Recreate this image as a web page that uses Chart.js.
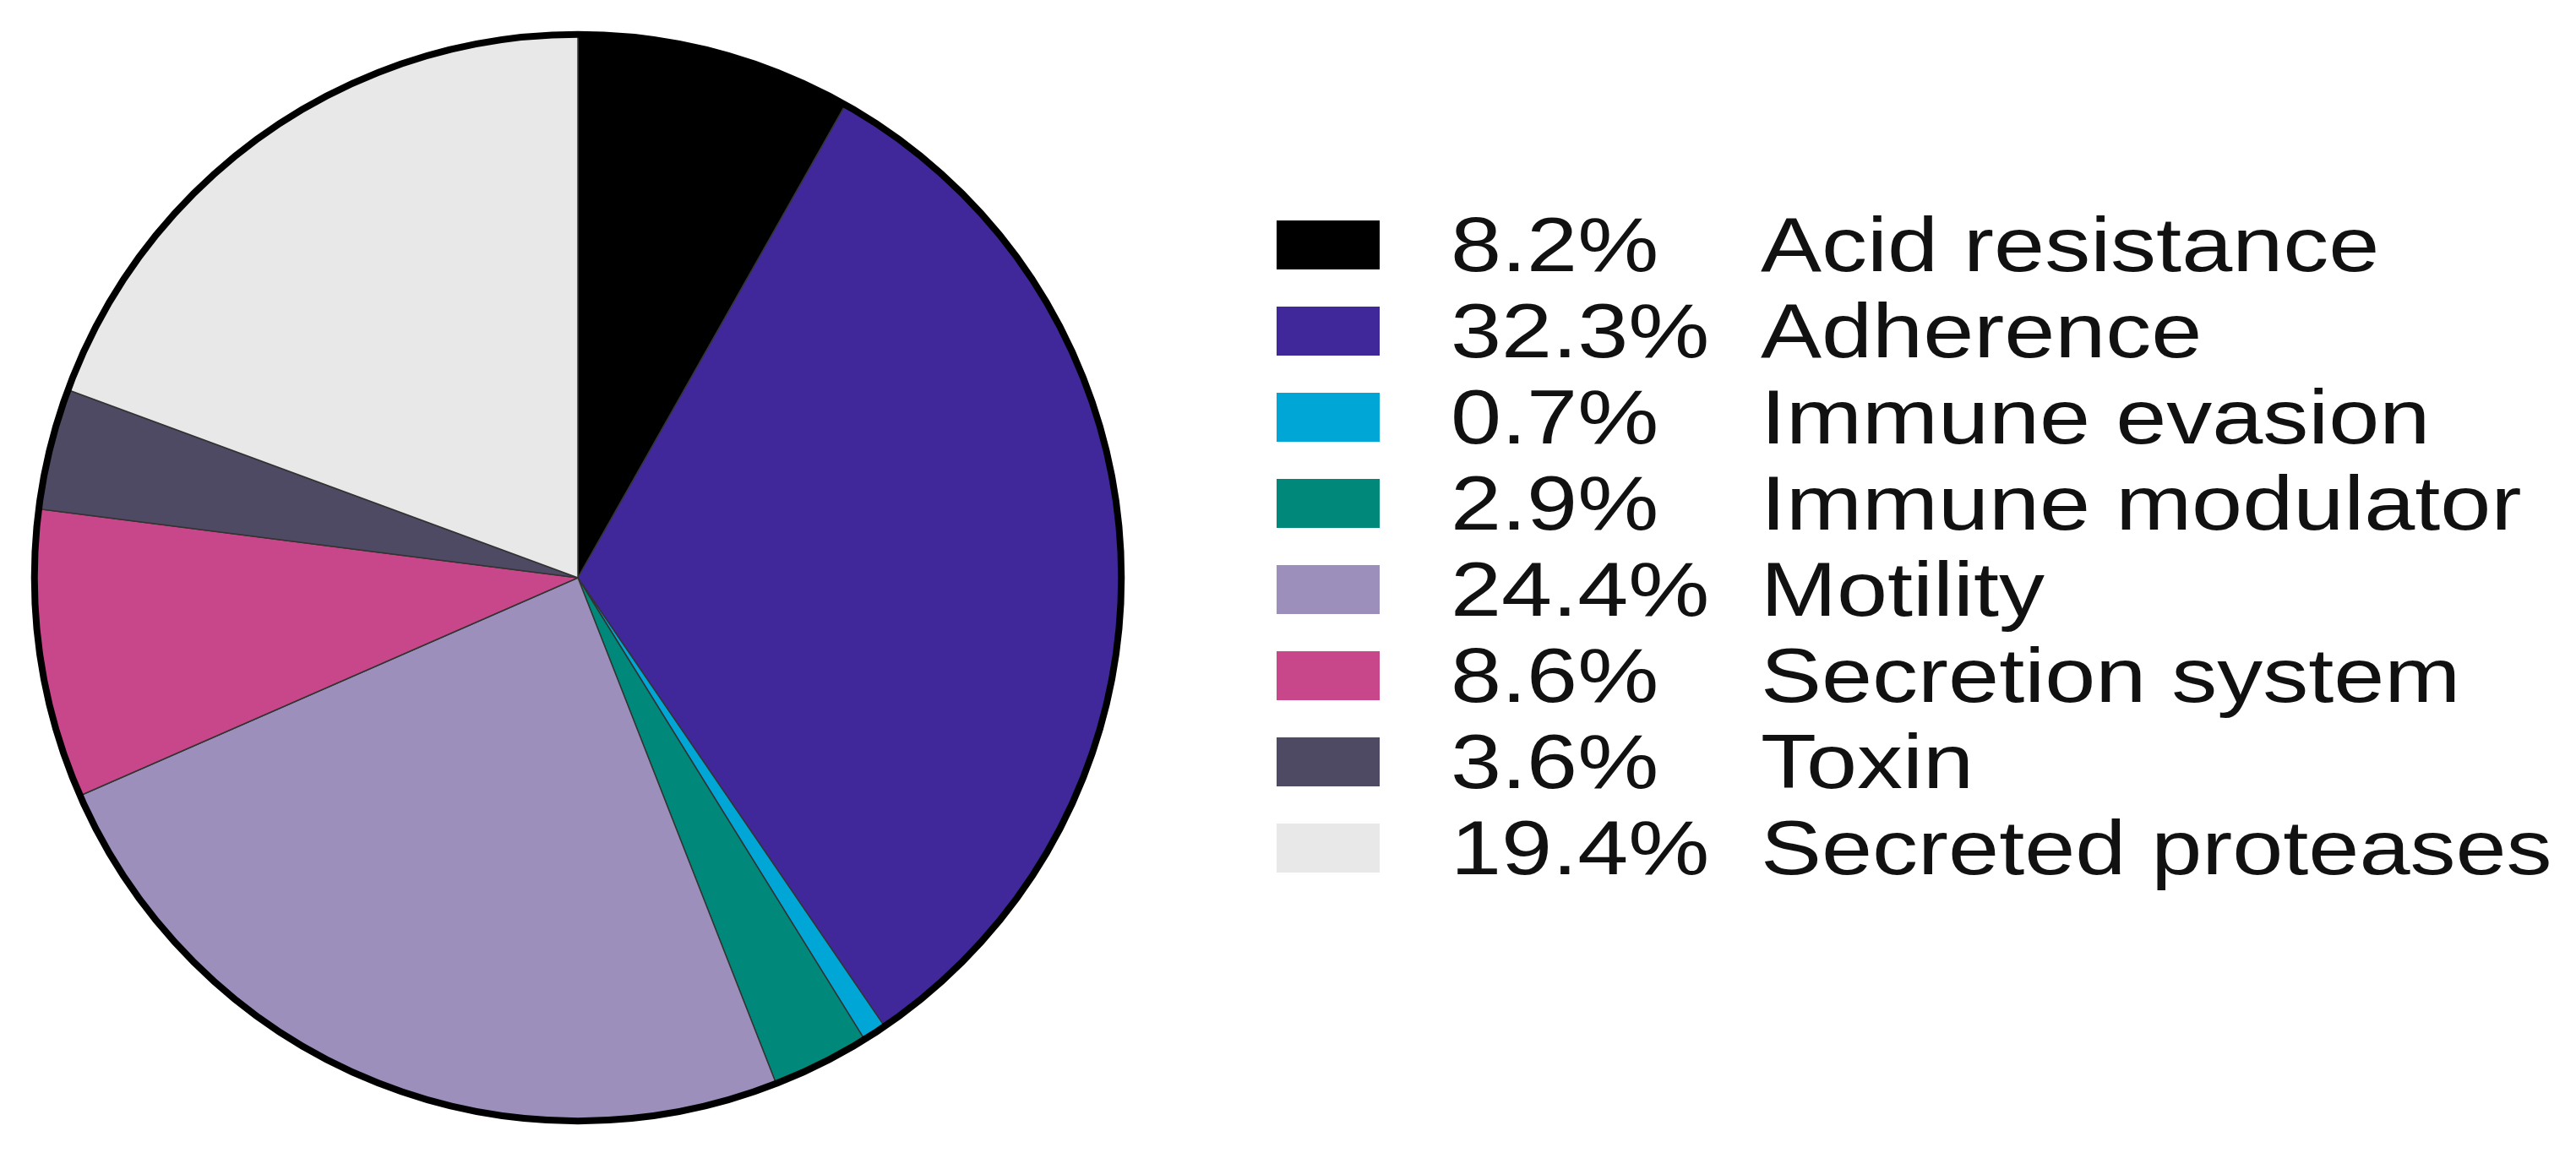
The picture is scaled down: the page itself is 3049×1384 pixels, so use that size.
<!DOCTYPE html>
<html><head><meta charset="utf-8">
<script src="https://cdn.jsdelivr.net/npm/chart.js@4"></script>
<style>
html,body{margin:0;padding:0;background:#fff;width:3049px;height:1384px;overflow:hidden;font-family:"Liberation Sans",Arial,sans-serif}
#wrap{position:absolute;left:0;top:0;width:1368px;height:1368px}
#legend{position:absolute;left:1511px;top:243px}
.row{position:absolute;left:0;height:102px;white-space:nowrap;font-size:90px;color:#111}
.sw{position:absolute;left:0;top:18px;width:122px;height:58px}
.pct,.lab{position:absolute;top:-4px;line-height:102px;transform-origin:left center;transform:scaleX(1.2)}
.pct{left:206px}
.lab{left:573px}
</style></head><body>
<div id="wrap"><canvas id="c" width="1368" height="1368"></canvas></div>
<div id="legend"></div>
<script>
const categories=["Acid resistance","Adherence","Immune evasion","Immune modulator","Motility","Secretion system","Toxin","Secreted proteases"];
const values=[8.2,32.3,0.7,2.9,24.4,8.6,3.6,19.4];
const percentLabels=["8.2%","32.3%","0.7%","2.9%","24.4%","8.6%","3.6%","19.4%"];
const colors=["#000000","#40289a","#00a6d6","#00897b","#9c8fbb","#c8478a","#4f4a63","#e8e8e8"];

const lg=document.getElementById('legend');
categories.forEach((c,i)=>{
  const r=document.createElement('div');r.className='row';r.style.top=(i*102)+'px';
  r.innerHTML='<div class="sw" style="background:'+colors[i]+'"></div><span class="pct">'+percentLabels[i]+'</span><span class="lab">'+c+'</span>';
  lg.appendChild(r);
});
const ring={id:'ring',afterDatasetsDraw(ch){
  const m=ch.getDatasetMeta(0).data[0];const x=ch.ctx;
  x.save();x.beginPath();x.arc(m.x,m.y,m.outerRadius,0,Math.PI*2);x.lineWidth=8;x.strokeStyle='#000';x.stroke();x.restore();}};
new Chart(document.getElementById('c'),{
  type:'pie',
  data:{labels:categories,datasets:[{data:values,backgroundColor:colors,borderColor:'#333',borderWidth:1.5}]},
  options:{responsive:false,animation:false,layout:{padding:40},
    plugins:{legend:{display:false},tooltip:{enabled:false}}},
  plugins:[ring]
});
</script></body></html>
